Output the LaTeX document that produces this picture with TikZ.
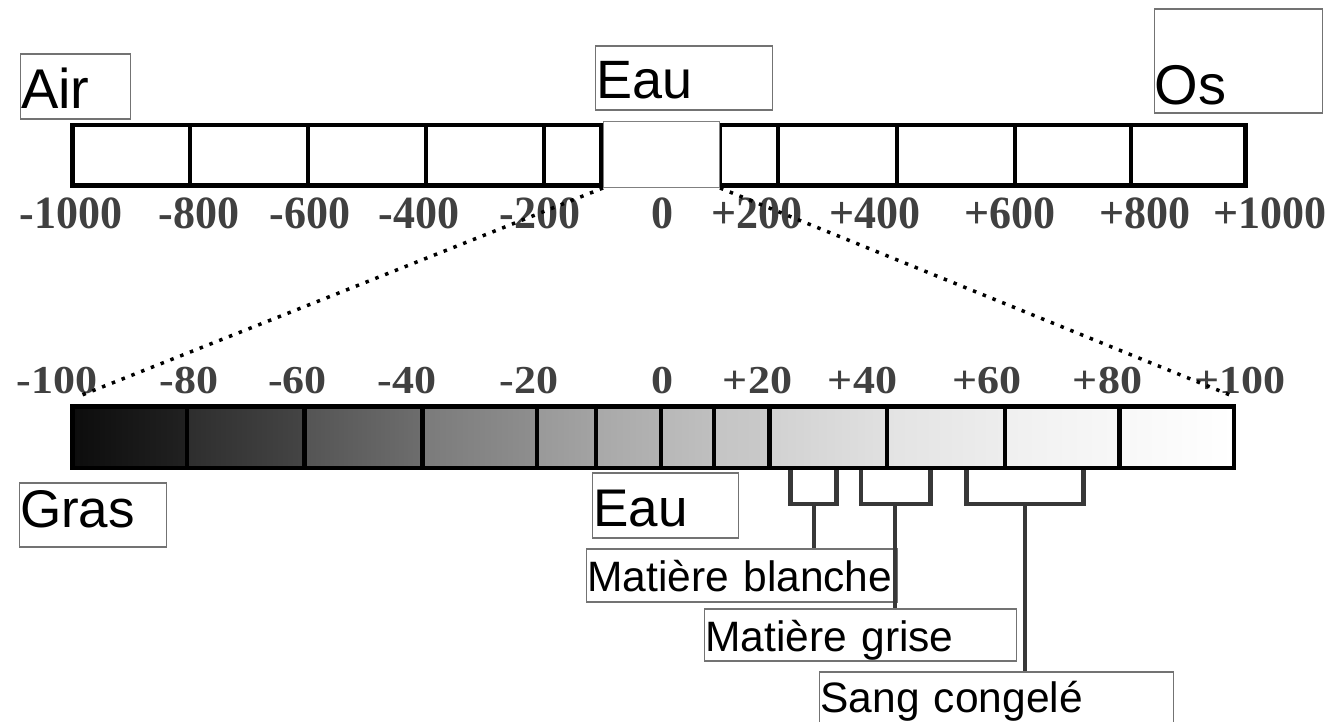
\documentclass[tikz,border=0pt]{standalone}
\usepackage{fontspec}
\usepackage{graphicx}
\setmainfont{Liberation Sans}
\newfontfamily\numfont{Liberation Serif}
\begin{document}
\begin{tikzpicture}[x=1pt,y=-1pt,
  lbl/.style={draw=black!55, line width=1.1pt, anchor=base west, inner sep=0pt, align=left, text=black},
  num/.style={anchor=base, inner sep=0pt, text=black!75, font=\numfont\bfseries\fontsize{44}{48}\selectfont},
  bar/.style={line width=4.7pt, black},
  brk/.style={line width=4.5pt, black!78},
  zoomline/.style={line width=3.5pt, dash pattern=on 3.5pt off 7pt, black}]
\useasboundingbox (0,0) rectangle (1338,721);
\clip (0,0) rectangle (1338,721);
\fill[white] (0,0) rectangle (1338,721);

% ---- top scale ----
\draw[bar] (72.5,125) rectangle (1245.5,185.5);
\foreach \x in {190,308,426,544,601,720,778,897,1015,1131}
  \draw[bar] (\x,125) -- (\x,185.5);
\node[draw=black!50, line width=1pt, fill=white, minimum width=116pt, minimum height=66pt, inner sep=0pt, anchor=north west] (eauz) at (603,121) {};

\foreach \n/\x/\t in {t1/71/-1000, t2/199/-800, t3/310/-600, t4/419/-400, t5/540/-200, t6/662/0, t7/757/+200, t8/875/+400, t9/1010/+600, t10/1145/+800, t11/1270/+1000}
  \node[num] (\n) at (\x,228) {\scalebox{1}[1.05]{\t}};

% ---- lower scale ----
\foreach \a/\b/\cl/\cr in {72.5/187/95/87, 187/304.5/82/73, 304.5/422.5/67/57, 422.5/537/52/44, 537/596/40/36, 596/661/34/30, 661/714/28/25, 714/769.5/23/21, 769.5/887/18/12, 887/1005/11/7, 1005/1119.5/6/3, 1119.5/1234/3/0}
  \shade[left color=black!\cl, right color=black!\cr] (\a,406.5) rectangle (\b,468);
\draw[bar] (72.5,406.5) rectangle (1234,468);
\foreach \x in {187,304.5,422.5,537,596,661,714,769.5,887,1005,1119.5}
  \draw[bar] (\x,406.5) -- (\x,468);

\foreach \n/\x/\t in {b1/57/-100, b2/189/-80, b3/297.5/-60, b4/407/-40, b5/529/-20, b6/662/0, b7/757.5/+20, b8/862.5/+40, b9/987/+60, b10/1107.5/+80, b11/1240/+100}
  \node[num] (\n) at (\x,393) {\scalebox{1}[0.9]{\t}};

% ---- zoom lines ----
\coordinate (lowL) at (77,397);
\coordinate (lowR) at (1230,395);
\draw[zoomline] (eauz.south west) -- (lowL);
\draw[zoomline] (eauz.south east) -- (lowR);

% ---- labels ----
\node[lbl, text width=110pt, text height=54pt, text depth=11pt, font=\fontsize{56}{60}\selectfont] (air) at (20,108) {\hspace*{0.5pt}Air};
\node[lbl, text width=177pt, text height=52pt, text depth=12pt, font=\fontsize{54}{60}\selectfont] (eautop) at (595,98) {\hspace*{1pt}Eau};
\node[lbl, text width=168pt, text height=95pt, text depth=9pt, font=\fontsize{56}{60}\selectfont] (os) at (1154,104) {Os};
\node[lbl, text width=147pt, text height=44pt, text depth=20pt, font=\fontsize{53}{58}\selectfont] (gras) at (19,527) {\hspace*{0.5pt}Gras};
\node[lbl, text width=146pt, text height=53pt, text depth=12pt, font=\fontsize{53}{60}\selectfont] (eaubas) at (592,526) {\hspace*{1pt}Eau};
\node[lbl, text width=311pt, text height=42pt, text depth=11pt, font=\fontsize{42.5}{48}\selectfont] (mb) at (586,591) {\hspace*{1pt}Matière blanche};
\node[lbl, text width=312pt, text height=42pt, text depth=10pt, font=\fontsize{42.5}{48}\selectfont] (mg) at (704,651) {\hspace*{1pt}Matière grise};
\node[lbl, text width=354pt, text height=40pt, text depth=30pt, font=\fontsize{42.5}{48}\selectfont] (sc) at (819,712) {\hspace*{1pt}Sang congelé};

% ---- brackets ----
\coordinate (s1) at (814,504);
\coordinate (s2) at (895,504);
\coordinate (s3) at (1025,504);
\draw[brk] (790.7,470) |- (836.7,504) -- (836.7,470);
\draw[brk] (s1) -- (s1 |- mb.north);
\draw[brk] (861,470) |- (930.7,504) -- (930.7,470);
\draw[brk] (s2) -- (s2 |- mg.north);
\draw[brk] (966.7,470) |- (1083.3,504) -- (1083.3,470);
\draw[brk] (s3) -- (s3 |- sc.north);
\end{tikzpicture}
\end{document}
